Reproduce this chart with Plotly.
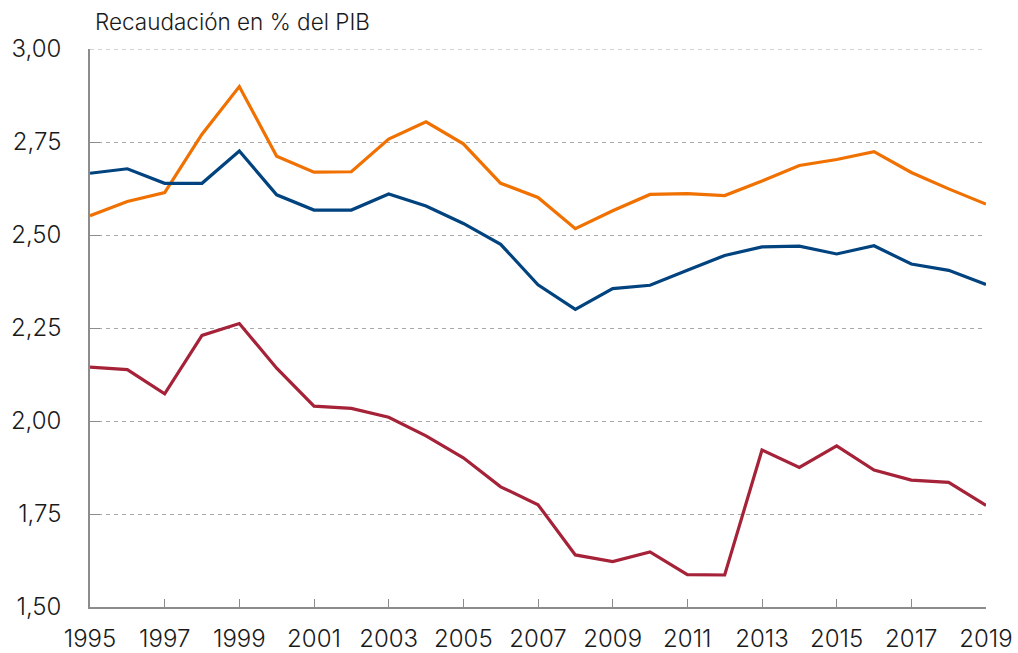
import plotly.graph_objects as go

years = list(range(1995, 2020))

serie_naranja = [2.552, 2.590, 2.614, 2.771, 2.899, 2.712, 2.669, 2.670, 2.758,
                 2.804, 2.745, 2.639, 2.601, 2.517, 2.565, 2.609, 2.611, 2.606,
                 2.645, 2.687, 2.703, 2.724, 2.668, 2.624, 2.583]

serie_azul = [2.666, 2.678, 2.639, 2.639, 2.726, 2.608, 2.567, 2.567, 2.610,
              2.578, 2.531, 2.475, 2.366, 2.300, 2.356, 2.365, 2.405, 2.445,
              2.468, 2.470, 2.449, 2.471, 2.422, 2.405, 2.367]

serie_roja = [2.145, 2.138, 2.073, 2.230, 2.262, 2.142, 2.040, 2.034, 2.010,
              1.960, 1.901, 1.823, 1.775, 1.640, 1.622, 1.648, 1.587, 1.586,
              1.922, 1.875, 1.933, 1.868, 1.841, 1.835, 1.773]

x_ticks = list(range(1995, 2020, 2))
y_ticks = [1.50, 1.75, 2.00, 2.25, 2.50, 2.75, 3.00]

FONT = "Inter"
TXT = "#1a1a1a"
GRID = "#a8a8a8"

fig = go.Figure()
for vals, color in [(serie_naranja, "#F07000"), (serie_azul, "#00437F"), (serie_roja, "#A52238")]:
    fig.add_trace(go.Scatter(x=years, y=vals, mode="lines",
                             line=dict(color=color, width=3.2),
                             showlegend=False, hoverinfo="skip", cliponaxis=False))

# dashed gridline on the top edge of the range (plotly skips the edge gridline)
fig.add_shape(type="line", xref="paper", yref="y", x0=0, x1=1,
              y0=y_ticks[-1], y1=y_ticks[-1], layer="below",
              line=dict(color=GRID, width=1, dash="4px,4px"))

fig.update_layout(
    width=1018, height=653,
    margin=dict(l=90, r=32, t=49, b=46, autoexpand=False),
    plot_bgcolor="white", paper_bgcolor="white",
    separators=",.",
    font=dict(family=FONT, color=TXT),
    xaxis=dict(range=[1995, 2019], tickvals=x_ticks, ticks="inside", ticklen=8,
               tickcolor="#8c8c8c", tickwidth=1.3, showgrid=False,
               showline=True, linecolor="#8c8c8c", linewidth=1.5,
               tickfont=dict(size=24, family=FONT, color=TXT, weight=300),
               ticklabelstandoff=9, automargin=False, zeroline=False),
    yaxis=dict(range=[1.5, 3.0], tickvals=y_ticks, tickformat=".2f",
               ticks="inside", ticklen=10, tickcolor="#8c8c8c", tickwidth=1.3,
               showgrid=True, gridcolor=GRID, griddash="4px,4px", gridwidth=1,
               showline=True, linecolor="#8c8c8c", linewidth=1.5,
               tickfont=dict(size=24, family=FONT, color=TXT, weight=300),
               ticklabelstandoff=22, automargin=False, zeroline=False),
    annotations=[dict(text="Recaudación en % del PIB", xref="paper", yref="paper",
                      x=0.003, y=1, xanchor="left", yanchor="bottom", yshift=12,
                      showarrow=False,
                      font=dict(size=22.5, family=FONT, color=TXT, weight=300))],
)

fig.write_html("out.html", config={"displayModeBar": False},
               post_script="document.body.style.margin='0';document.body.style.overflow='hidden';")
